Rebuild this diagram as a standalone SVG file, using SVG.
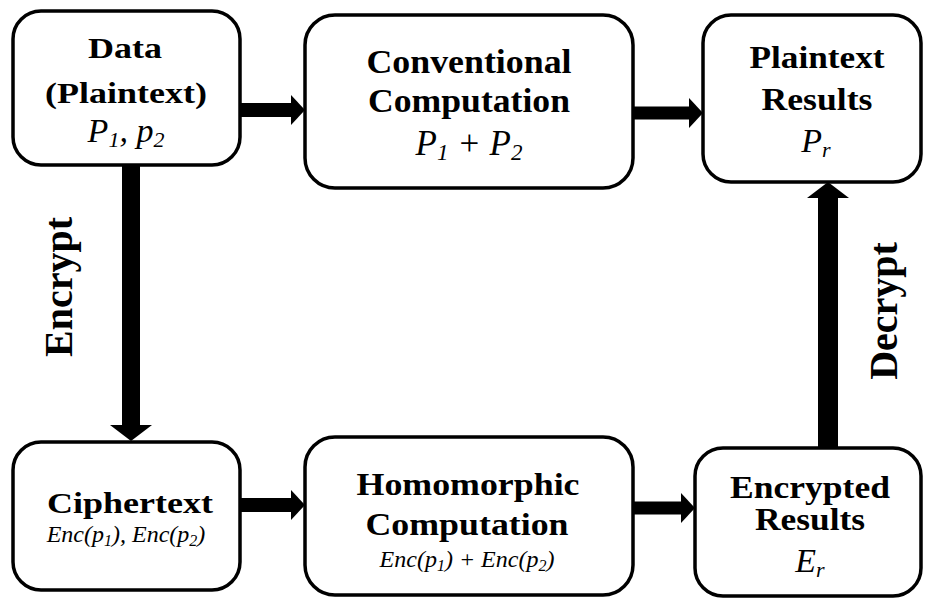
<svg xmlns="http://www.w3.org/2000/svg" width="925" height="599" viewBox="0 0 925 599">
<defs>
<style>
.box{fill:#fff;stroke:#000;stroke-width:3.5}
.b{font-family:"Liberation Serif","Times New Roman",serif;font-weight:bold;text-anchor:middle;fill:#000}
.i{font-family:"Liberation Serif","Times New Roman",serif;font-style:italic;text-anchor:middle;fill:#000}
.sh{stroke:#000;fill:none}
</style>
<marker id="ah" markerUnits="userSpaceOnUse" markerWidth="14" markerHeight="30" refX="0" refY="15" orient="auto"><path d="M0,0 L14,15 L0,30 z" fill="#000"/></marker>
<marker id="av" markerUnits="userSpaceOnUse" markerWidth="16" markerHeight="42" refX="0" refY="21" orient="auto"><path d="M0,0 L16,21 L0,42 z" fill="#000"/></marker>
</defs>
<rect width="925" height="599" fill="#fff"/>
<g id="connectors">
<line class="sh" x1="240" y1="110" x2="291" y2="110" stroke-width="14" marker-end="url(#ah)"/>
<line class="sh" x1="633" y1="113" x2="689" y2="113" stroke-width="13" marker-end="url(#ah)"/>
<line class="sh" x1="240" y1="505" x2="291" y2="505" stroke-width="14" marker-end="url(#ah)"/>
<line class="sh" x1="633" y1="508" x2="681" y2="508" stroke-width="13" marker-end="url(#ah)"/>
<line class="sh" x1="131" y1="165" x2="131" y2="425" stroke-width="18" marker-end="url(#av)"/>
<line class="sh" x1="828" y1="448" x2="828" y2="198" stroke-width="20" marker-end="url(#av)"/>
<text class="b" font-size="40" transform="translate(72,287) rotate(-90)">Encrypt</text>
<text class="b" font-size="40" transform="translate(897,311) rotate(-90)">Decrypt</text>
</g>
<g id="data">
<rect class="box" x="13" y="11" width="227" height="154" rx="28"/>
<text class="b" x="125" y="58" font-size="30" textLength="74" lengthAdjust="spacingAndGlyphs">Data</text>
<text class="b" x="126" y="103" font-size="30" textLength="162" lengthAdjust="spacingAndGlyphs">(Plaintext)</text>
<text class="i" x="126" y="142" font-size="34">P<tspan font-size="22" dy="5">1</tspan><tspan dy="-5">, p</tspan><tspan font-size="22" dy="5">2</tspan></text>
</g>
<g id="conventional">
<rect class="box" x="305" y="15" width="328" height="173" rx="30"/>
<text class="b" x="469" y="73" font-size="34" textLength="205" lengthAdjust="spacingAndGlyphs">Conventional</text>
<text class="b" x="469" y="112" font-size="34" textLength="202" lengthAdjust="spacingAndGlyphs">Computation</text>
<text class="i" x="469" y="155" font-size="35">P<tspan font-size="23" dy="5">1</tspan><tspan dy="-5"> + P</tspan><tspan font-size="23" dy="5">2</tspan></text>
</g>
<g id="plaintext-results">
<rect class="box" x="703" y="15" width="218" height="167" rx="28"/>
<text class="b" x="817" y="68" font-size="31" textLength="135" lengthAdjust="spacingAndGlyphs">Plaintext</text>
<text class="b" x="817" y="110" font-size="31" textLength="111" lengthAdjust="spacingAndGlyphs">Results</text>
<text class="i" x="816" y="152" font-size="34">P<tspan font-size="22" dy="5">r</tspan></text>
</g>
<g id="ciphertext">
<rect class="box" x="13" y="442" width="227" height="148" rx="28"/>
<text class="b" x="130" y="513" font-size="30" textLength="166" lengthAdjust="spacingAndGlyphs">Ciphertext</text>
<text class="i" x="126" y="542" font-size="24">Enc(p<tspan font-size="16" dy="4">1</tspan><tspan dy="-4">), Enc(p</tspan><tspan font-size="16" dy="4">2</tspan><tspan dy="-4">)</tspan></text>
</g>
<g id="homomorphic">
<rect class="box" x="305" y="437" width="328" height="158" rx="30"/>
<text class="b" x="468" y="495" font-size="32" textLength="223" lengthAdjust="spacingAndGlyphs">Homomorphic</text>
<text class="b" x="467" y="535" font-size="32" textLength="203" lengthAdjust="spacingAndGlyphs">Computation</text>
<text class="i" x="467" y="567" font-size="24">Enc(p<tspan font-size="16" dy="4">1</tspan><tspan dy="-4">) + Enc(p</tspan><tspan font-size="16" dy="4">2</tspan><tspan dy="-4">)</tspan></text>
</g>
<g id="encrypted-results">
<rect class="box" x="695" y="448" width="226" height="148" rx="28"/>
<text class="b" x="810" y="498" font-size="31" textLength="160" lengthAdjust="spacingAndGlyphs">Encrypted</text>
<text class="b" x="810" y="530" font-size="31" textLength="110" lengthAdjust="spacingAndGlyphs">Results</text>
<text class="i" x="810" y="572" font-size="34">E<tspan font-size="22" dy="5">r</tspan></text>
</g>
</svg>
